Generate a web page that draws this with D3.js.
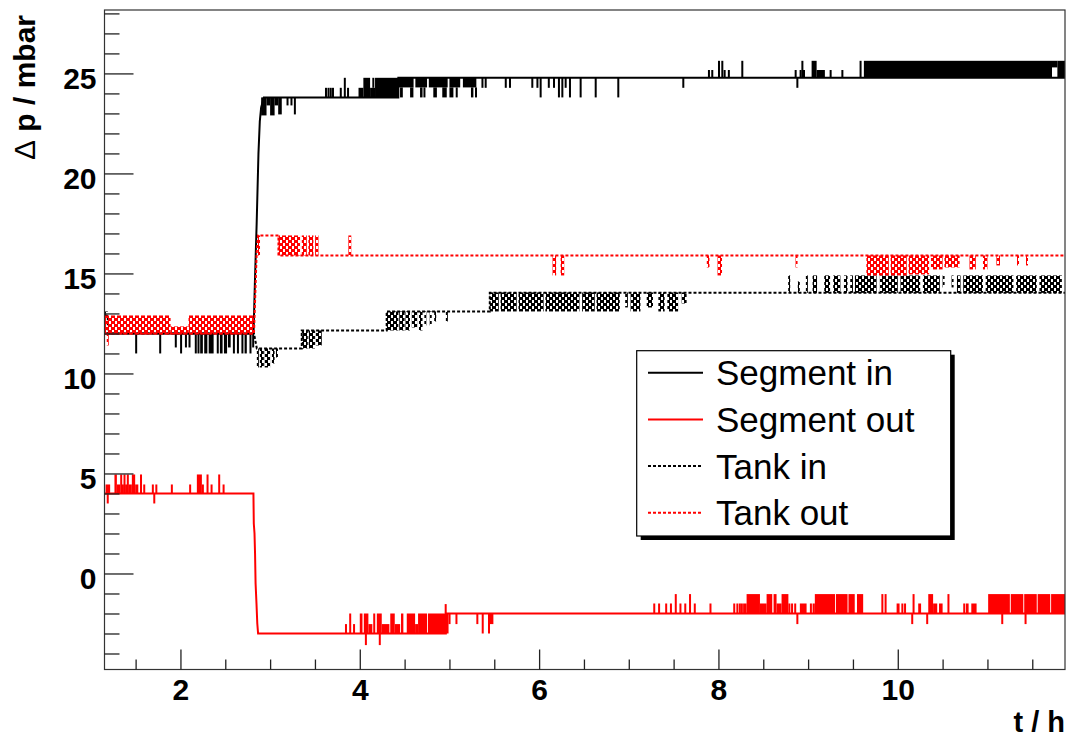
<!DOCTYPE html>
<html><head><meta charset="utf-8">
<script src="https://cdn.jsdelivr.net/npm/d3@7"></script>
<style>body{margin:0;background:#fff;} svg{display:block;}</style>
</head><body><svg id="c" width="1067" height="740"></svg>
<script>
// ---------- data ----------
const seriesNames = ["Segment in", "Segment out", "Tank in", "Tank out"];
const seriesColors = ["#000000", "#ff0000", "#000000", "#ff0000"];
const seriesDashed = [false, false, true, true];
const xTicksMajor = [2, 4, 6, 8, 10];
const yTicksMajor = [0, 5, 10, 15, 20, 25];
const xDomain = [1.153, 11.865];
const yDomain = [-4.8, 28.17];
const xTitle = "t / h";
const yTitle = "p / mbar";

// main traces [t, value]
const segInLine = [[1.153,12.0],[2.815,12.0],[2.83,14.5],[2.85,17.5],[2.87,21.0],[2.885,22.6],[2.90,23.3],[2.93,23.8],[4.43,23.8],[4.43,24.78],[11.865,24.78]];
const segOutLine = [[1.153,4.0],[2.814,4.0],[2.818,2.5],[2.826,2.0],[2.832,1.0],[2.838,-0.5],[2.848,-1.5],[2.857,-2.5],[2.866,-3.0],[4.96,-3.0],[4.96,-2.0],[11.865,-2.0]];
const tankInLine = [[1.153,12.9],[1.19,12.9],[1.19,12.0],[2.82,12.0],[2.852,11.25],[3.353,11.25],[3.353,12.15],[4.30,12.15],[4.30,13.1],[5.45,13.1],[5.45,14.03],[11.865,14.03]];
const tankOutLine = [[1.153,12.0],[2.82,12.0],[2.835,14.0],[2.85,16.0],[2.865,16.9],[3.093,16.9],[3.093,15.9],[11.865,15.9]];

// fluctuation spans [t0, t1, low, high]
const segInNoise = [
[1.495,1.505,11.0,12.0],[1.763,1.772,11.0,12.0],[1.937,1.946,11.3,12.0],[1.996,2.005,11.0,12.0],[2.05,2.065,11.3,12.0],[2.09,2.11,11.3,12.0],[2.16,2.17,11.0,12.0],[2.19,2.2,11.0,12.0],
[2.22,2.25,11.0,12.0],[2.265,2.30,11.0,12.0],[2.315,2.37,11.0,12.0],[2.405,2.415,11.0,12.0],[2.44,2.47,11.0,12.0],[2.485,2.52,11.0,12.0],[2.53,2.56,11.3,12.0],[2.585,2.595,11.0,12.0],[2.63,2.645,11.0,12.0],[2.68,2.70,11.0,12.0],[2.715,2.74,11.0,12.0],[2.77,2.79,11.0,12.0],[2.80,2.815,11.3,12.0],
[2.90,2.96,22.9,23.8],[2.96,3.00,23.4,23.8],[3.00,3.05,22.9,23.8],[3.05,3.09,23.4,23.8],[3.09,3.13,22.95,23.8],[3.183,3.19,23.4,23.8],[3.227,3.234,23.4,23.8],[3.265,3.272,22.95,23.8],
[3.612,3.62,23.8,24.28],[3.64,3.648,23.8,24.28],[3.665,3.673,23.8,24.28],[3.69,3.698,23.8,24.28],[3.777,3.785,23.8,24.28],[3.822,3.83,23.8,24.78],[3.858,3.866,23.8,24.28],
[3.986,4.04,23.8,24.28],[4.04,4.115,23.8,24.78],[4.115,4.17,23.8,24.28],[4.14,4.15,24.28,24.78],[4.17,4.43,23.8,24.78],
[4.43,4.60,24.3,24.78],[4.62,4.75,24.3,24.78],[4.77,4.98,24.3,24.78],[5.0,5.12,24.3,24.78],[5.15,5.30,24.3,24.78],
[4.449,4.48,23.8,24.3],[4.561,4.598,23.8,24.3],[4.672,4.70,23.8,24.3],[4.71,4.728,23.8,24.3],[4.82,4.86,23.8,24.3],[4.92,4.97,23.8,24.3],[5.0,5.044,23.8,24.3],[5.07,5.09,23.8,24.3],[5.24,5.267,23.8,24.3],[5.285,5.30,23.8,24.3],
[5.357,5.364,24.28,24.78],[5.393,5.40,24.28,24.78],[5.617,5.625,24.28,24.78],[5.664,5.672,24.28,24.78],[5.913,5.92,24.28,24.78],[5.97,5.977,24.28,24.78],[6.006,6.013,23.8,24.78],[6.097,6.104,24.28,24.78],[6.155,6.162,24.28,24.78],[6.21,6.217,23.8,24.78],[6.248,6.255,23.8,24.78],[6.285,6.292,24.28,24.78],[6.333,6.34,23.8,24.78],[6.452,6.46,23.8,24.78],[6.62,6.627,23.8,24.78],[6.872,6.88,23.8,24.78],
[7.597,7.604,24.28,24.78],
[7.883,7.89,24.78,25.17],[7.92,7.928,24.78,25.17],[7.995,8.002,24.78,25.63],[8.032,8.04,24.78,25.63],[8.058,8.065,24.78,25.17],[8.105,8.112,24.78,25.17],[8.255,8.262,24.78,25.63],
[8.85,8.857,24.78,25.17],[8.869,8.876,24.28,24.78],[8.905,8.912,24.78,25.17],[8.925,8.932,24.78,25.63],[8.943,8.95,24.78,25.17],[9.039,9.095,24.78,25.63],[9.095,9.187,24.78,25.17],[9.24,9.247,24.78,25.17],[9.371,9.378,24.78,25.17],[9.574,9.581,24.78,25.63],
[9.622,11.72,24.78,25.63],[11.72,11.78,25.3,25.63],[11.78,11.865,24.78,25.63]
];
const segOutNoise = [
[1.165,1.216,4.0,4.45],[1.178,1.185,3.5,4.0],[1.264,1.291,4.0,4.95],[1.291,1.328,4.0,4.45],[1.328,1.347,4.0,4.95],[1.347,1.365,4.0,4.45],[1.365,1.383,4.0,4.95],[1.383,1.402,4.0,4.45],[1.402,1.42,4.0,4.95],[1.42,1.458,4.0,4.45],[1.458,1.495,4.0,4.95],[1.495,1.53,4.0,4.45],[1.549,1.556,4.0,4.95],[1.585,1.592,4.0,4.45],[1.681,1.69,4.0,4.45],[1.697,1.703,3.5,4.0],[1.72,1.737,4.0,4.45],[1.893,1.9,4.0,4.45],[2.097,2.104,4.0,4.45],[2.183,2.239,4.0,4.95],[2.239,2.26,4.0,4.45],[2.291,2.298,4.0,4.95],[2.336,2.343,4.0,4.45],[2.421,2.428,4.0,4.95],[2.47,2.477,4.0,4.45],
[3.835,3.843,-3,-2.53],[3.882,3.89,-3,-2.0],[3.925,3.933,-3,-2.53],[4.0,4.03,-3,-2.0],[4.045,4.096,-3,-2.0],[4.096,4.14,-3,-2.53],[4.15,4.158,-3,-2.0],[4.19,4.245,-3,-2.0],[4.245,4.33,-3,-2.53],[4.34,4.39,-3,-2.0],[4.39,4.45,-3,-2.53],[4.46,4.486,-3,-2.0],[4.524,4.617,-3,-2.0],[4.617,4.65,-3,-2.53],[4.65,4.75,-3,-2.0],[4.76,4.99,-3,-2.0],[4.057,4.064,-3.58,-3],[4.212,4.219,-3.58,-3],[4.947,4.953,-2.0,-1.53],
[4.99,4.997,-2.53,-2],[5.067,5.074,-2.53,-2],[5.30,5.307,-2.53,-2],[5.36,5.38,-3.0,-2],[5.43,5.437,-3.0,-2],[5.44,5.49,-2.53,-2],
[7.273,7.28,-2,-1.5],[7.327,7.334,-2,-1.5],[7.406,7.413,-2,-1.5],[7.459,7.466,-2,-1.5],[7.513,7.52,-2,-1.03],[7.565,7.572,-2,-1.5],[7.619,7.626,-2,-1.5],[7.672,7.679,-2,-1.03],[7.725,7.732,-2,-1.5],
[7.90,7.915,-2,-1.5],
[8.165,8.172,-2,-1.5],[8.20,8.207,-2,-1.5],[8.228,8.235,-2,-1.5],[8.25,8.26,-2,-1.5],[8.275,8.314,-2,-1.5],
[8.314,8.463,-2,-1.03],[8.463,8.537,-2,-1.5],[8.537,8.60,-2,-1.03],[8.615,8.648,-2,-1.03],[8.648,8.704,-2,-1.5],[8.704,8.78,-2,-1.03],[8.78,8.797,-2,-1.5],
[8.81,8.83,-2,-1.5],[8.845,8.86,-2,-1.5],[8.869,8.876,-2.53,-2],[8.908,8.983,-2,-1.5],[9.02,9.03,-2,-1.5],[9.05,9.075,-2,-1.5],
[9.075,9.30,-2,-1.03],[9.31,9.44,-2,-1.03],[9.45,9.52,-2,-1.03],[9.545,9.614,-2,-1.03],
[9.817,9.824,-2,-1.03],[9.853,9.86,-2,-1.03],
[9.987,10.02,-2,-1.5],[10.04,10.047,-2,-1.5],[10.07,10.077,-2,-1.5],[10.15,10.157,-2.53,-2],[10.165,10.172,-2,-1.03],
[10.228,10.26,-2,-1.5],[10.317,10.324,-2.53,-2],[10.34,10.394,-2,-1.03],[10.394,10.44,-2,-1.5],[10.46,10.50,-2,-1.5],[10.554,10.561,-2,-1.03],
[10.73,10.74,-2,-1.5],[10.76,10.79,-2,-1.5],[10.82,10.879,-2,-1.5],
[11.008,11.25,-2,-1.03],[11.26,11.40,-2,-1.03],[11.41,11.55,-2,-1.03],[11.56,11.70,-2,-1.03],[11.71,11.865,-2,-1.03],[11.154,11.161,-2.53,-2],[11.414,11.421,-2.53,-2]
];
const tankInNoise = [
[1.153,1.19,12.4,13.1],
[2.852,2.87,10.3,11.25],[2.885,2.93,10.3,11.25],[2.94,3.00,10.3,11.25],[3.02,3.05,10.5,11.25],[3.065,3.075,10.8,11.25],
[3.353,3.42,11.25,12.15],[3.43,3.50,11.25,12.15],[3.51,3.576,11.4,12.15],
[4.30,4.43,12.15,13.1],[4.44,4.50,12.15,13.1],[4.51,4.56,12.15,13.1],[4.58,4.64,12.3,13.1],[4.66,4.70,12.15,13.1],[4.72,4.74,12.4,13.1],[4.78,4.80,12.4,13.1],[4.83,4.84,12.6,13.1],[4.96,4.98,12.6,13.1],
[5.45,5.55,13.1,14.05],[5.57,5.75,13.1,14.05],[5.77,6.05,13.1,14.05],[6.07,6.45,13.1,14.05],[6.48,6.62,13.1,14.05],[6.64,6.90,13.1,14.05],[6.96,6.99,13.3,14.05],[7.02,7.13,13.1,14.05],[7.20,7.27,13.3,14.05],[7.33,7.40,13.1,14.05],[7.43,7.55,13.1,14.05],[7.59,7.645,13.5,14.05],
[8.778,8.80,14.03,14.9],[8.885,8.895,14.03,14.6],[8.975,8.99,14.03,14.9],[9.05,9.10,14.03,14.9],[9.18,9.245,14.03,14.9],[9.28,9.36,14.03,14.9],[9.40,9.44,14.03,14.9],[9.47,9.50,14.03,14.9],[9.522,9.764,14.03,14.9],[9.80,10.00,14.03,14.9],[10.03,10.25,14.03,14.9],[10.28,10.469,14.03,14.9],[10.50,10.52,14.3,14.9],[10.60,10.62,14.3,14.9],[10.66,10.70,14.03,14.9],[10.73,10.95,14.03,14.9],[10.98,11.29,14.03,14.9],[11.32,11.55,14.03,14.9],[11.58,11.83,14.03,14.9]
];
const tankOutNoise = [
[1.153,1.89,11.95,12.9],[1.89,2.09,11.95,12.35],[2.09,2.82,11.95,12.9],[1.178,1.184,11.4,11.95],
[2.865,2.885,15.9,16.9],
[3.093,3.334,15.9,16.9],[3.353,3.409,15.9,16.9],[3.427,3.483,15.9,16.9],[3.502,3.539,15.9,16.9],
[3.873,3.905,15.9,16.9],
[6.15,6.19,14.9,15.9],[6.24,6.28,14.9,15.9],
[7.87,7.90,15.3,15.9],[7.99,8.04,14.9,15.9],
[8.86,8.88,15.3,15.9],
[9.65,9.90,14.9,15.9],[9.92,10.10,14.9,15.9],[10.12,10.35,14.95,15.9],[10.37,10.50,15.2,15.9],[10.52,10.69,15.3,15.9],
[10.80,10.87,15.2,15.9],[10.95,11.0,15.2,15.9],[11.10,11.14,15.4,15.9],
[11.33,11.35,15.4,15.9],[11.43,11.45,15.4,15.9]
];

const seriesLines = [segInLine, segOutLine, tankInLine, tankOutLine];
const seriesNoise = [segInNoise, segOutNoise, tankInNoise, tankOutNoise];

// ---------- layout ----------
const L = 104.5, R = 1065, T = 10, B = 669.5;
const FONT = "'Liberation Sans', Arial, Helvetica, sans-serif";

const svg = d3.select("#c");
const x = d3.scaleLinear().domain(xDomain).range([L, R]);
const y = d3.scaleLinear().domain(yDomain).range([B, T]);

const defs = svg.append("defs");
defs.append("clipPath").attr("id", "clip").append("rect")
  .attr("x", L).attr("y", T).attr("width", R - L).attr("height", B - T);
seriesColors.forEach((c, i) => {
  if (!seriesDashed[i]) return;
  const p = defs.append("pattern").attr("id", "pat" + i)
    .attr("patternUnits", "userSpaceOnUse").attr("width", 6).attr("height", 6);
  p.append("rect").attr("x", 0).attr("y", 0).attr("width", 4).attr("height", 3).attr("fill", c);
  p.append("rect").attr("x", 3).attr("y", 3).attr("width", 3).attr("height", 3).attr("fill", c);
  p.append("rect").attr("x", 0).attr("y", 3).attr("width", 1).attr("height", 3).attr("fill", c);
});

const plot = svg.append("g").attr("clip-path", "url(#clip)");
const line = d3.line().x(d => x(d[0])).y(d => y(d[1]));

seriesLines.forEach((data, i) => {
  const g = plot.append("g");
  g.selectAll("rect").data(seriesNoise[i]).join("rect")
    .attr("x", d => x(d[0]))
    .attr("width", d => Math.max(x(d[1]) - x(d[0]), 2))
    .attr("y", d => y(d[3]))
    .attr("height", d => y(d[2]) - y(d[3]))
    .attr("fill", seriesDashed[i] ? `url(#pat${i})` : seriesColors[i]);
  g.append("path").datum(data)
    .attr("d", line)
    .attr("fill", "none")
    .attr("stroke", seriesColors[i])
    .attr("stroke-width", 2)
    .attr("stroke-dasharray", seriesDashed[i] ? "3,2" : null);
});

// frame
svg.append("rect").attr("x", L).attr("y", T).attr("width", R - L).attr("height", B - T)
  .attr("fill", "none").attr("stroke", "#333").attr("stroke-width", 1.2);

// axes
const xMinor = d3.range(1.5, 12, 0.5).filter(v => v % 2 !== 0);
const yMinor = d3.range(-4, 29, 1).filter(v => v % 5 !== 0);

const gx = svg.append("g").attr("transform", `translate(0,${B})`);
gx.call(d3.axisBottom(x).tickValues(xTicksMajor).tickSize(-20).tickPadding(9).tickFormat(d3.format("d")));
const gxm = svg.append("g").attr("transform", `translate(0,${B})`);
gxm.call(d3.axisBottom(x).tickValues(xMinor).tickSize(-10).tickFormat(""));
const gy = svg.append("g").attr("transform", `translate(${L},0)`);
gy.call(d3.axisLeft(y).tickValues(yTicksMajor).tickSize(-29).tickPadding(8).tickFormat(d3.format("d")));
const gym = svg.append("g").attr("transform", `translate(${L},0)`);
gym.call(d3.axisLeft(y).tickValues(yMinor).tickSize(-15).tickFormat(""));

[gx, gxm, gy, gym].forEach(g => {
  g.select(".domain").remove();
  g.selectAll(".tick line").attr("stroke", "#222").attr("stroke-width", 1.3);
  g.selectAll(".tick text").attr("font-family", FONT).attr("font-size", 30)
    .attr("font-weight", "bold").attr("fill", "#000");
});
gy.selectAll(".tick text").attr("dy", "0.5em");

// axis titles
svg.append("text").attr("x", R).attr("y", 732)
  .attr("text-anchor", "end").attr("font-family", FONT).attr("font-size", 29)
  .attr("font-weight", "bold").text(xTitle);
const yt = svg.append("text").attr("transform", "translate(35,15) rotate(-90)")
  .attr("text-anchor", "end").attr("font-family", FONT).attr("font-size", 30).attr("font-weight", "bold");
yt.append("tspan").attr("font-weight", "normal").text("\u0394");
yt.append("tspan").text(" " + yTitle);

// legend
const lg = svg.append("g");
const LX0 = 636.7, LY0 = 350.7, LW = 314, LH = 185.3;
lg.append("rect").attr("x", LX0 + 4).attr("y", LY0 + 4).attr("width", LW).attr("height", LH).attr("fill", "#000");
lg.append("rect").attr("x", LX0).attr("y", LY0).attr("width", LW).attr("height", LH)
  .attr("fill", "#fff").attr("stroke", "#000").attr("stroke-width", 1.2);
seriesNames.forEach((name, i) => {
  const ry = 372.7 + i * 46.7;
  lg.append("line").attr("x1", 648).attr("x2", 703).attr("y1", ry).attr("y2", ry)
    .attr("stroke", seriesColors[i]).attr("stroke-width", 2)
    .attr("stroke-dasharray", seriesDashed[i] ? "3,2" : null);
  lg.append("text").attr("x", 716).attr("y", ry + 12.5)
    .attr("font-family", FONT).attr("font-size", 35).attr("fill", "#000").text(name);
});
</script></body></html>
